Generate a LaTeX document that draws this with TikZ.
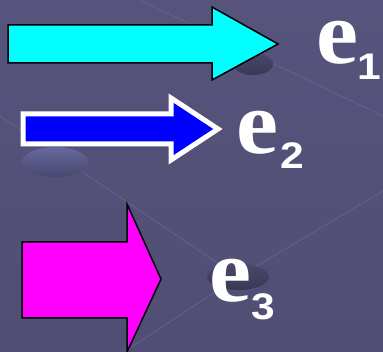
\documentclass[tikz,border=0pt]{standalone}
\usepackage{xcolor}
\usepackage{fontspec}
\newfontfamily\vecfont{Liberation Serif}
\newfontfamily\idxfont{Liberation Sans}
\definecolor{slide}{RGB}{80,78,116}
\definecolor{slidelt}{RGB}{86,84,124}
\definecolor{streakc}{RGB}{100,98,144}
\definecolor{shadowtop}{RGB}{104,104,156}
\definecolor{shadowbot}{RGB}{72,72,112}
\definecolor{cyanfill}{RGB}{0,255,255}
\definecolor{bluefill}{RGB}{0,0,255}
\definecolor{magfill}{RGB}{255,0,255}

\begin{document}
\begin{tikzpicture}[x=1pt, y=-1pt,
    streak/.style={draw=streakc, line width=0.8pt},
    shadowlt/.style={top color=shadowtop, bottom color=shadowbot},
    shadowdk/.style={top color=slide!92!black, bottom color=slide!72!black},
    arrowblk/.style={draw=black, line width=1.5pt, line join=miter},
    arrowwht/.style={draw=white, line width=5pt, line join=miter},
    evec/.style={text=white, inner sep=0pt, xscale=1.05, transform shape,
        font=\vecfont\bfseries\fontsize{90}{92}\selectfont},
    eidx/.style={text=white, inner sep=0pt, xscale=1.15, transform shape,
        font=\idxfont\bfseries\fontsize{37}{39}\selectfont}]
    % background
    \useasboundingbox (0,0) rectangle (383,352);
    \shade[top color=slidelt, bottom color=slide] (0,0) rectangle (383,352);
    \draw[streak] (140,0) -- (383,116);
    \draw[streak] (0,116) -- (238,277);
    \draw[streak] (238,277) -- (383,191);
    \draw[streak] (238,277) -- (124,352);
    % shadows
    \shade[shadowdk] (253,64) ellipse [x radius=20, y radius=11];
    \shade[shadowlt] (55,162) ellipse [x radius=33, y radius=15];
    \shade[shadowdk] (238,277) ellipse [x radius=31, y radius=13];
    % arrows
    \filldraw[arrowblk, fill=cyanfill] (8,25) -- (212,25) -- (212,7) -- (278,44)
        -- (212,80) -- (212,63) -- (8,63) -- cycle;
    \filldraw[arrowwht, fill=bluefill] (23,114) -- (171,114) -- (171,98) -- (218,129)
        -- (171,160) -- (171,144) -- (23,144) -- cycle;
    \filldraw[arrowblk, fill=magfill] (22,242) -- (127,242) -- (127,204) -- (161,279)
        -- (127,352) -- (127,318) -- (22,318) -- cycle;
    % labels
    \node[evec, anchor=base west] (e1) at (316,64) {e};
    \node[eidx, anchor=base west] (s1) at (357,80) {1};
    \node[evec, anchor=base west] (e2) at (236,154) {e};
    \node[eidx, anchor=base west] (s2) at (280,169) {2};
    \node[evec, anchor=base west] (e3) at (209,302) {e};
    \node[eidx, anchor=base west] (s3) at (251,320) {3};
\end{tikzpicture}
\end{document}
